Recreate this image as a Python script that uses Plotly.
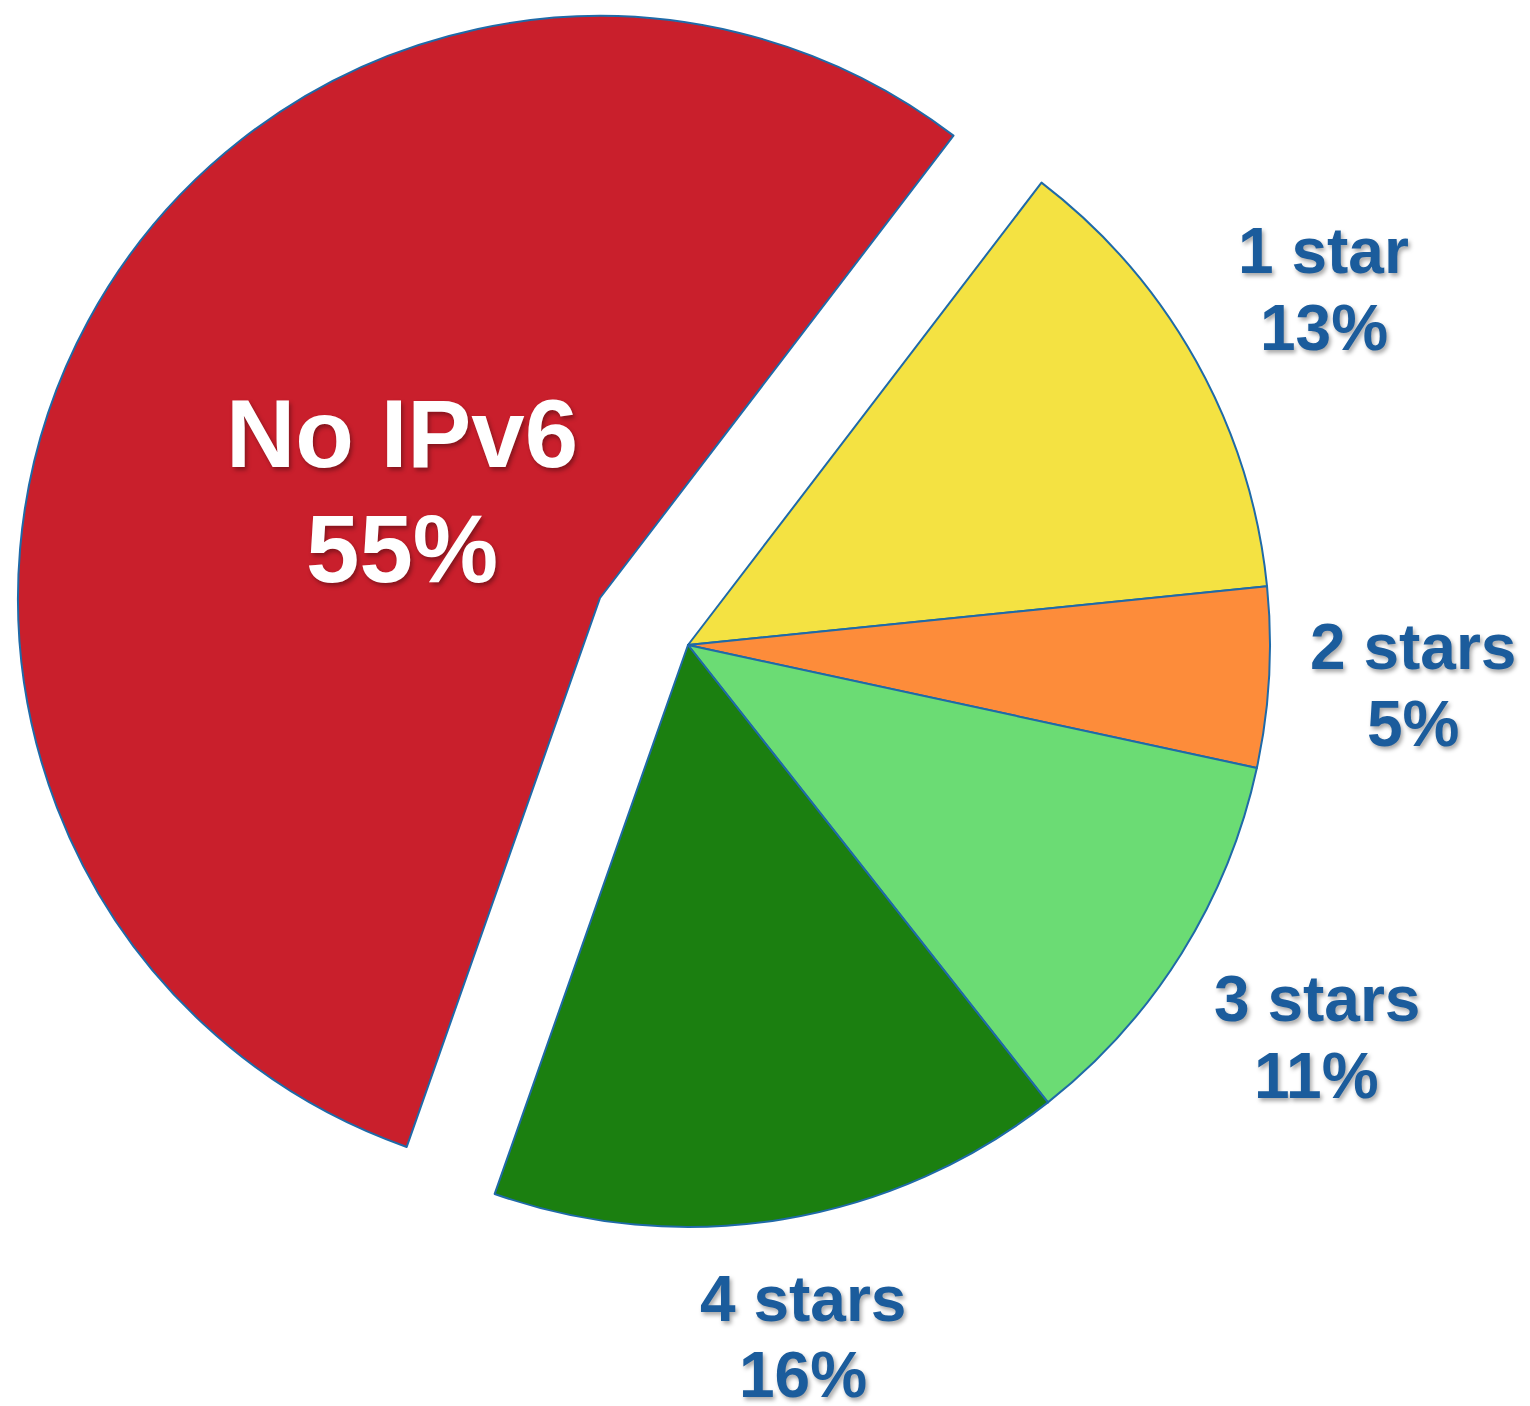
import math
import plotly.graph_objects as go

labels = ["1 star", "2 stars", "3 stars", "4 stars", "No IPv6"]
values = [13, 5, 11, 16, 55]
colors = ["#F4E242", "#FD8C3A", "#6BDC74", "#1B7F10", "#C91F2C"]
pct_text = ["13%", "5%", "11%", "16%", "55%"]

W, H = 1530, 1406
R = 582
ROT = 37.4
STAR_C = (680, 637)
RED_C = (592, 590)
LINE = "#1f6aa8"
BLUE = "#1b5c9c"
FONT = "Liberation Sans, Arial, Helvetica, sans-serif"
SHADOW = "2px 3px 4px rgba(0,0,0,0.35)"
OUT_SIZE, IN_SIZE = 64, 96
GAP = 40


def domain(c):
    cx, cy = c
    return dict(x=[(cx - R) / W, (cx + R) / W], y=[1 - (cy + R) / H, 1 - (cy - R) / H])


red_idx = labels.index("No IPv6")

star_colors = [c if i != red_idx else "rgba(0,0,0,0)" for i, c in enumerate(colors)]
star_lw = [2 if i != red_idx else 0 for i in range(len(labels))]
red_colors = ["rgba(0,0,0,0)" if i != red_idx else c for i, c in enumerate(colors)]
red_lw = [0 if i != red_idx else 2 for i in range(len(labels))]

fig = go.Figure()
fig.add_trace(go.Pie(
    labels=labels, values=values, sort=False, direction="clockwise", rotation=ROT,
    domain=domain(STAR_C),
    marker=dict(colors=star_colors, line=dict(color=LINE, width=star_lw)),
    textinfo="none", showlegend=False, hoverinfo="label+percent",
))
fig.add_trace(go.Pie(
    labels=labels, values=values, sort=False, direction="clockwise", rotation=ROT,
    domain=domain(RED_C),
    marker=dict(colors=red_colors, line=dict(color=LINE, width=red_lw)),
    textinfo="none", showlegend=False, hoverinfo="label+percent",
))

# label positions derived from the slice mid-angles
total = sum(values)
cum = 0
for i, (lab, pct, v) in enumerate(zip(labels, pct_text, values)):
    mid = math.radians(ROT + 360 * (cum + v / 2) / total)
    cum += v
    s, c = math.sin(mid), -math.cos(mid)
    if i == red_idx:
        cx, cy = RED_C
        dist = 0.386 * R
        size, color = IN_SIZE, "white"
    else:
        cx, cy = STAR_C
        size, color = OUT_SIZE, BLUE
        half_w = 0.45 * size * max(len(lab), len(pct)) / 2
        half_h = 1.2 * size * 2 / 2 * 0.83
        dist = R + GAP + abs(s) * half_w + abs(c) * half_h
    px = cx + dist * s
    py = cy + dist * c
    pitch = 1.2 * size
    font = dict(family=FONT, size=size, color=color, weight="bold", shadow=SHADOW)
    for txt, dy in ((lab, -pitch / 2), (pct, pitch / 2)):
        fig.add_annotation(
            x=px / W, y=1 - (py + dy) / H, xref="paper", yref="paper",
            text=txt, showarrow=False, xanchor="center", yanchor="middle",
            font=font,
        )

fig.update_layout(
    width=W, height=H, margin=dict(l=0, r=0, t=0, b=0),
    paper_bgcolor="white", plot_bgcolor="white",
)
fig.write_html("out.html")
